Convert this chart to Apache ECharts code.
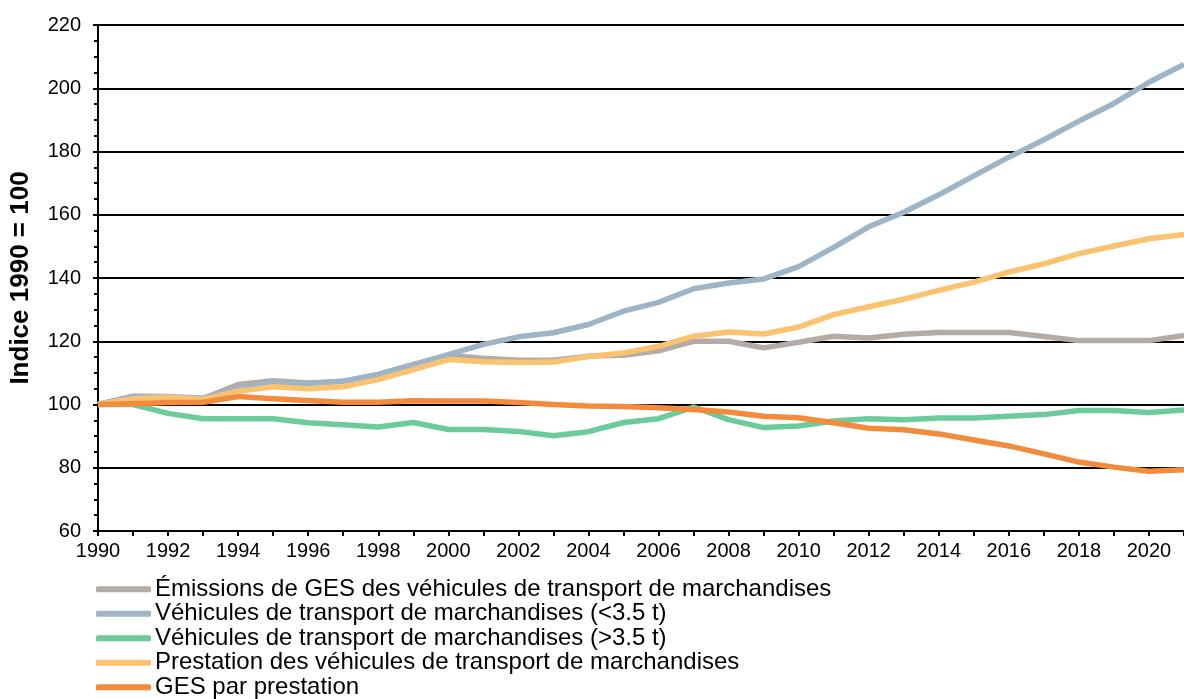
<!DOCTYPE html>
<html>
<head>
<meta charset="utf-8">
<script src="https://cdn.jsdelivr.net/npm/echarts@6/dist/echarts.min.js"></script>
<style>
  html, body { margin: 0; padding: 0; background: #fff; }
  #chart { width: 1184px; height: 699px; }
</style>
</head>
<body>
<div id="chart"></div>
<script>
const years = [];
for (let y = 1990; y <= 2021; y++) years.push(String(y));

const emissionsGes = [100, 102.5, 102.3, 101.9, 106.3, 107.5, 106.8, 107.3, 109.5, 112.6,
  115.5, 114.6, 114, 114, 115.3, 115.6, 117, 120, 120, 117.9,
  119.7, 121.6, 121, 122.2, 122.8, 122.8, 122.8, 121.5, 120.2, 120.2,
  120.2, 121.8];
const vehiculesLeger = [100, 102.6, 102.5, 102, 105, 106.8, 106.6, 107.4, 109.5, 112.6,
  115.8, 119, 121.4, 122.7, 125.3, 129.5, 132.3, 136.6, 138.4, 139.7,
  143.6, 149.7, 156.2, 160.8, 166.3, 172.3, 178.2, 183.7, 189.6, 195.2,
  201.9, 207.5];
const vehiculesLourd = [100, 100, 97.2, 95.5, 95.5, 95.5, 94.2, 93.6, 92.9, 94.3,
  92.1, 92.1, 91.5, 90.1, 91.4, 94.3, 95.5, 99.2, 95.2, 92.7,
  93.2, 94.8, 95.5, 95.2, 95.7, 95.7, 96.3, 96.8, 98.1, 98.1,
  97.5, 98.3];
const prestation = [100, 101.8, 102.3, 101.6, 104.2, 105.6, 105, 105.6, 107.9, 111,
  114.2, 113.5, 113.3, 113.4, 115.2, 116.3, 118.4, 121.6, 122.9, 122.3,
  124.5, 128.4, 130.9, 133.3, 136.1, 138.7, 141.9, 144.5, 147.7, 150.1,
  152.4, 153.8];
const gesParPrestation = [100, 100.2, 100.6, 100.7, 102.5, 101.8, 101.3, 100.7, 100.7, 101.2,
  101.1, 101.1, 100.6, 100, 99.5, 99.4, 99, 98.4, 97.6, 96.3,
  95.8, 94.2, 92.5, 92, 90.7, 88.8, 86.9, 84.4, 81.8, 80.2,
  78.9, 79.4];

const seriesNames = [
  "Émissions de GES des véhicules de transport de marchandises",
  "Véhicules de transport de marchandises (<3.5 t)",
  "Véhicules de transport de marchandises (>3.5 t)",
  "Prestation des véhicules de transport de marchandises",
  "GES par prestation"
];
const seriesData = [emissionsGes, vehiculesLeger, vehiculesLourd, prestation, gesParPrestation];
const colors = ["#b3aca6", "#9db5c7", "#6ccb9b", "#fbc26f", "#f28c3c"];

const font = "'Liberation Sans', Arial, sans-serif";

const chart = echarts.init(document.getElementById("chart"));
const option = {
  animation: false,
  color: colors,
  grid: { left: 98, right: -9, top: 25, bottom: 168, containLabel: false },
  legend: {
    orient: "vertical",
    left: 96,
    top: 577,
    height: 200,
    icon: "roundRect",
    itemWidth: 55,
    itemHeight: 6,
    itemGap: 0,
    padding: 0,
    textStyle: { fontFamily: font, fontSize: 24, color: "#000", lineHeight: 24.5, padding: [0, 0, 0, -1] },
    data: seriesNames
  },
  xAxis: {
    type: "category",
    boundaryGap: false,
    data: years,
    axisLine: { lineStyle: { color: "#000", width: 2 } },
    axisTick: { show: true, interval: 0, length: 5, lineStyle: { color: "#000", width: 2 } },
    axisLabel: { interval: 1, margin: 10, fontFamily: font, fontSize: 20, color: "#000" },
    splitLine: { show: false }
  },
  yAxis: {
    type: "value",
    min: 60,
    max: 220,
    interval: 20,
    name: "Indice 1990 = 100",
    nameLocation: "middle",
    nameGap: 64,
    nameRotate: 90,
    nameTextStyle: { fontFamily: font, fontSize: 26, fontWeight: "bold", color: "#000" },
    axisLine: { show: true, lineStyle: { color: "#000", width: 2 } },
    axisTick: { show: true, length: 5, lineStyle: { color: "#000", width: 2 } },
    minorTick: { show: true, splitNumber: 4, length: 4, lineStyle: { color: "#000", width: 2 } },
    axisLabel: { margin: 17, fontFamily: font, fontSize: 20, color: "#000" },
    splitLine: { show: true, lineStyle: { color: "#000", width: 2 } }
  },
  series: seriesNames.map((name, i) => ({
    name: name,
    type: "line",
    data: seriesData[i],
    showSymbol: false,
    symbol: "none",
    lineStyle: { width: 5.5, color: colors[i], join: "round" },
    itemStyle: { color: colors[i] }
  }))
};
chart.setOption(option);
</script>
</body>
</html>
